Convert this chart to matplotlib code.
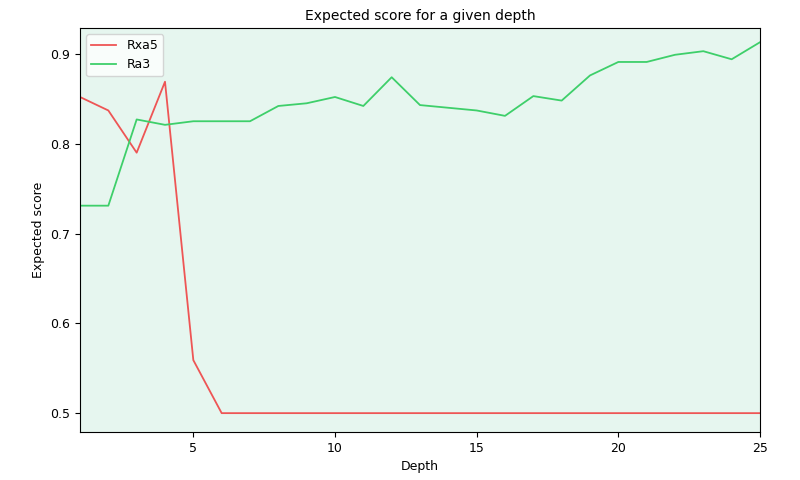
import matplotlib
matplotlib.use('Agg')
import matplotlib.pyplot as plt

depth = list(range(1, 26))
rxa5 = [0.852, 0.837, 0.790, 0.869, 0.559] + [0.5] * 20
ra3 = [0.731, 0.731, 0.827, 0.821, 0.825, 0.825, 0.825, 0.842, 0.845, 0.852,
       0.842, 0.874, 0.843, 0.840, 0.837, 0.831, 0.853, 0.848, 0.876, 0.891,
       0.891, 0.899, 0.903, 0.894, 0.913]

fig = plt.figure(figsize=(8, 4.8), dpi=100)
ax = fig.add_axes([0.1, 0.1, 0.85, 0.842])
ax.set_facecolor('#e6f6ef')
ax.plot(depth, rxa5, color='#ee5555', label='Rxa5', linewidth=1.3)
ax.plot(depth, ra3, color='#3ecf6a', label='Ra3', linewidth=1.3)
ax.set_xlim(1, 25)
ax.set_ylim(0.479, 0.929)
ax.set_xticks([5, 10, 15, 20, 25])
ax.set_yticks([0.5, 0.6, 0.7, 0.8, 0.9])
ax.tick_params(labelsize=9)
ax.set_xlabel('Depth', fontsize=9)
ax.set_ylabel('Expected score', fontsize=9)
ax.set_title('Expected score for a given depth', fontsize=10)
ax.legend(loc='upper left', fontsize=9)
fig.savefig('out.png')
